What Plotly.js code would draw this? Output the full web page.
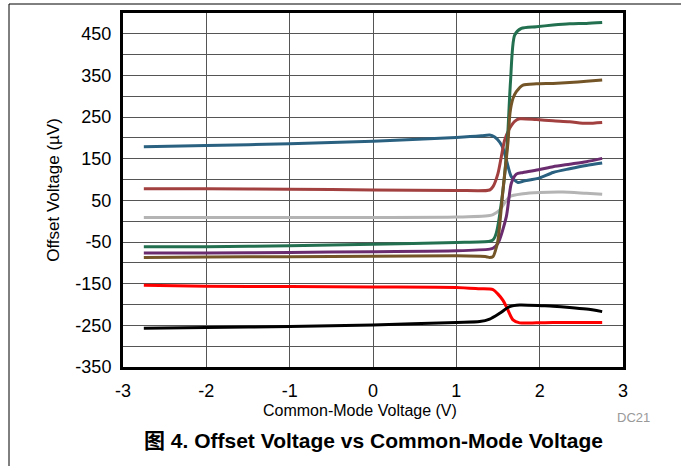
<!DOCTYPE html>
<html>
<head>
<meta charset="utf-8">
<script src="https://cdn.plot.ly/plotly-3.0.1.min.js"></script>
<style>html,body{margin:0;padding:0;background:#fff;}#chart{width:681px;height:466px;}</style>
</head>
<body>
<div id="chart"></div>
<script>
// ---- data ----
const blueX   = [-2.75, -2, -1, 0, 1, 1.3, 1.4, 1.46, 1.52, 1.56, 1.6, 1.66, 1.74, 1.8, 2.0, 2.16, 2.36, 2.56, 2.75];
const blueY   = [179, 182, 186, 192, 201, 205, 207, 202, 190, 175, 148, 107, 93, 96, 104, 117, 126, 134, 140];

const maroonX = [-2.75, -2, -1, 0, 1, 1.4, 1.44, 1.5, 1.54, 1.58, 1.64, 1.7, 1.76, 1.96, 2.16, 2.36, 2.56, 2.75];
const maroonY = [78, 78, 77, 75, 74, 75, 83, 115, 155, 195, 223, 240, 246, 244, 241, 239, 235, 237];

const grayX   = [-2.75, -2, -1, 0, 1, 1.4, 1.44, 1.52, 1.64, 1.8, 2.0, 2.28, 2.56, 2.75];
const grayY   = [9, 9, 9, 9, 10, 14, 16, 27, 59, 66, 69, 70, 67, 65];

const greenX  = [-2.75, -2, -1, 0, 1, 1.4, 1.44, 1.48, 1.56, 1.61, 1.65, 1.7, 1.78, 1.96, 2.16, 2.36, 2.56, 2.75];
const greenY  = [-61, -61, -59, -55, -51, -48, -45, -28, 75, 185, 335, 447, 463, 467, 471, 474, 475, 477];

const purpleX = [-2.75, -2, -1, 0, 1, 1.4, 1.44, 1.5, 1.6, 1.66, 1.72, 1.8, 2.0, 2.16, 2.36, 2.56, 2.75];
const purpleY = [-76, -76, -75, -73, -71, -67, -65, -53, 11, 91, 113, 117, 124, 131, 137, 143, 151];

const brownX  = [-2.75, -2, -1, 0, 1, 1.36, 1.4, 1.44, 1.47, 1.5, 1.56, 1.62, 1.644, 1.68, 1.72, 1.8, 1.96, 2.16, 2.36, 2.56, 2.75];
const brownY  = [-87, -86, -85, -84, -83, -85, -87, -85, -70, -45, 75, 190, 260, 295, 311, 327, 330, 331, 333, 336, 339];

const redX    = [-2.75, -2, -1, 0, 1, 1.28, 1.44, 1.5, 1.56, 1.6, 1.68, 1.76, 1.96, 2.16, 2.36, 2.56, 2.75];
const redY    = [-154, -156, -157, -158, -159, -162, -164, -175, -190, -205, -237, -244, -244, -243, -243, -243, -243];

const blackX  = [-2.75, -2, -1, 0, 1, 1.28, 1.4, 1.52, 1.64, 1.76, 2.04, 2.16, 2.36, 2.56, 2.75];
const blackY  = [-257, -255, -253, -249, -243, -241, -235, -221, -205, -201, -203, -204, -207, -211, -217];

// tick labels (hyphen-minus, as in the reference)
const xTickVals = [-3, -2, -1, 0, 1, 2, 3];
const xTickText = ['-3', '-2', '-1', '0', '1', '2', '3'];
const yTickVals = [-350, -250, -150, -50, 50, 150, 250, 350, 450];
const yTickText = ['-350', '-250', '-150', '-50', '50', '150', '250', '350', '450'];

const xTitle = 'Common-Mode Voltage (V)';
const yTitle = 'Offset Voltage (µV)';
const caption = '图 4. Offset Voltage vs Common-Mode Voltage';
const codeLabel = 'DC21';

const seriesList = [
  {x: blueX,   y: blueY,   c: '#2A6080'},
  {x: maroonX, y: maroonY, c: '#A23F3F'},
  {x: grayX,   y: grayY,   c: '#B4B4B4'},
  {x: greenX,  y: greenY,  c: '#22704F'},
  {x: purpleX, y: purpleY, c: '#6A2C6E'},
  {x: brownX,  y: brownY,  c: '#735528'},
  {x: redX,    y: redY,    c: '#FF0000'},
  {x: blackX,  y: blackY,  c: '#000000'}
];

const traces = seriesList.map(s => ({
  x: s.x, y: s.y, type: 'scatter', mode: 'lines',
  line: {color: s.c, width: 3, shape: 'spline', smoothing: 0.7},
  hoverinfo: 'skip', showlegend: false
}));

const fontFam = '"Liberation Sans", Arial, sans-serif';

const layout = {
  width: 681, height: 466,
  margin: {l: 123, r: 58, t: 13, b: 99},
  paper_bgcolor: '#fff', plot_bgcolor: '#fff',
  font: {family: fontFam, size: 18, color: '#000'},
  showlegend: false,
  xaxis: {
    range: [-3, 3], tickmode: 'array', tickvals: xTickVals, ticktext: xTickText,
    showgrid: true, gridcolor: '#555', gridwidth: 1,
    zeroline: false, showline: true, mirror: true, linecolor: '#000', linewidth: 3,
    ticks: 'outside', ticklen: 5, tickcolor: 'rgba(0,0,0,0)',
    tickfont: {family: fontFam, size: 18, color: '#000'}
  },
  yaxis: {
    range: [-350, 500], tickmode: 'array', tickvals: yTickVals, ticktext: yTickText,
    showgrid: true, gridcolor: '#555', gridwidth: 1,
    minor: {dtick: 50, tick0: -350, showgrid: true, gridcolor: '#555', gridwidth: 1, ticks: ''},
    zeroline: false, showline: true, mirror: true, linecolor: '#000', linewidth: 3,
    ticks: 'outside', ticklen: 5, tickcolor: 'rgba(0,0,0,0)',
    tickfont: {family: fontFam, size: 18, color: '#000'},
    title: {text: yTitle, font: {family: fontFam, size: 17, color: '#000'}, standoff: 12}
  },
  annotations: [
    {xref: 'paper', yref: 'paper', x: 0.474, y: -0.1215, text: xTitle, showarrow: false,
     xanchor: 'center', yanchor: 'middle', font: {family: fontFam, size: 16, color: '#000'}},
    {xref: 'paper', yref: 'paper', x: 1.021, y: -0.144, text: codeLabel, showarrow: false,
     xanchor: 'center', yanchor: 'middle', font: {family: fontFam, size: 13, color: '#999'}},
    {xref: 'paper', yref: 'paper', x: 0.5, y: -0.209, text: '<b>' + caption + '</b>', showarrow: false,
     xanchor: 'center', yanchor: 'middle', font: {family: '"Liberation Sans", "Noto Sans CJK SC", Arial, sans-serif', size: 21, color: '#000'}}
  ],
  shapes: [
    {type: 'line', xref: 'paper', yref: 'paper', x0: -0.228, x1: 1.12, y0: 1.0254, y1: 1.0254,
     line: {color: '#000', width: 1}},
    {type: 'line', xref: 'paper', yref: 'paper', x0: -0.228, x1: -0.228, y0: 1.0254, y1: -0.29,
     line: {color: '#000', width: 1}}
  ]
};

Plotly.newPlot('chart', traces, layout, {staticPlot: true, displayModeBar: false});
</script>
</body>
</html>
